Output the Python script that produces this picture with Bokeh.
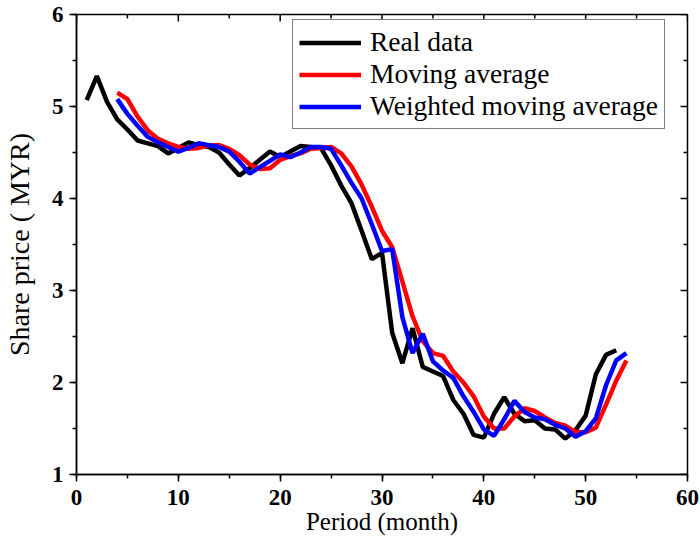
from bokeh.plotting import figure
from bokeh.models import Range1d, SingleIntervalTicker, Legend, LegendItem
from bokeh.embed import file_html
from bokeh.resources import INLINE

# ---- data ----
real_months = list(range(1, 54))
real_data = [5.07, 5.33, 5.05, 4.86, 4.75, 4.63, 4.60, 4.57, 4.49, 4.55,
             4.61, 4.58, 4.56, 4.50, 4.37, 4.25, 4.33, 4.42, 4.51, 4.45,
             4.51, 4.57, 4.56, 4.55, 4.36, 4.14, 3.95, 3.65, 3.34, 3.41,
             2.54, 2.21, 2.59, 2.17, 2.12, 2.07, 1.81, 1.66, 1.43, 1.40,
             1.66, 1.84, 1.66, 1.58, 1.59, 1.50, 1.49, 1.39, 1.48, 1.64,
             2.09, 2.30, 2.35]

avg_months = list(range(4, 55))
moving_avg = [5.15, 5.08, 4.89, 4.74, 4.65, 4.60, 4.56, 4.54, 4.55, 4.58,
              4.58, 4.54, 4.47, 4.37, 4.32, 4.33, 4.42, 4.46, 4.49, 4.54,
              4.55, 4.56, 4.49, 4.35, 4.15, 3.91, 3.65, 3.47, 3.10, 2.72,
              2.45, 2.32, 2.29, 2.12, 2.00, 1.85, 1.63, 1.50, 1.50, 1.63,
              1.72, 1.69, 1.62, 1.56, 1.53, 1.46, 1.46, 1.51, 1.76, 2.02,
              2.24]
weighted_avg = [5.08, 4.92, 4.79, 4.67, 4.61, 4.56, 4.51, 4.55, 4.60, 4.58,
                4.56, 4.51, 4.40, 4.27, 4.34, 4.41, 4.48, 4.45, 4.50, 4.56,
                4.56, 4.54, 4.36, 4.17, 4.00, 3.72, 3.43, 3.45, 2.71, 2.32,
                2.53, 2.23, 2.13, 2.05, 1.85, 1.68, 1.49, 1.42, 1.60, 1.80,
                1.68, 1.62, 1.60, 1.54, 1.50, 1.41, 1.47, 1.61, 1.97, 2.24,
                2.32]

series_labels = ["Real data", "Moving average", "Weighted moving average"]
x_label = "Period (month)"
y_label = "Share price ( MYR)"

# axis limits and tick steps
X_MIN, X_MAX, X_STEP = 0, 60, 10
Y_MIN, Y_MAX, Y_STEP = 1, 6, 1

FONT = "Liberation Serif"

W, H = 699, 537
BL, BR, BT, BB = 73, 12, 14, 60

p = figure(width=W, height=H,
           x_range=Range1d(X_MIN, X_MAX), y_range=Range1d(Y_MIN, Y_MAX),
           output_backend="svg", toolbar_location=None,
           min_border_left=BL, min_border_right=BR, min_border_top=BT,
           min_border_bottom=BB)
p.grid.visible = False
p.outline_line_color = "black"
p.outline_line_width = 1.5
p.background_fill_color = "white"

for ax, step in ((p.xaxis[0], X_STEP), (p.yaxis[0], Y_STEP)):
    ax.ticker = SingleIntervalTicker(interval=step, num_minor_ticks=2)
    ax.axis_line_width = 1.5
    ax.major_tick_line_width = 1.5
    ax.minor_tick_line_width = 1.5
    ax.major_tick_in = 0
    ax.major_tick_out = 7
    ax.minor_tick_in = 0
    ax.minor_tick_out = 4
    ax.major_label_text_font = FONT
    ax.major_label_text_font_style = "bold"
    ax.major_label_text_font_size = "23px"
    ax.major_label_text_color = "black"
    ax.axis_label_text_font = FONT
    ax.axis_label_text_font_style = "normal"
    ax.axis_label_text_color = "black"

p.xaxis[0].axis_label = x_label
p.xaxis[0].axis_label_text_font_size = "25px"
p.xaxis[0].major_label_standoff = 8
p.xaxis[0].axis_label_standoff = 0
p.yaxis[0].axis_label = y_label
p.yaxis[0].axis_label_text_font_size = "28px"
p.yaxis[0].major_label_standoff = 6
p.yaxis[0].axis_label_standoff = 14

# mirrored inward ticks on the top and right edges
frame_w = W - BL - BR
frame_h = 459
x_per_px = (X_MAX - X_MIN) / frame_w
y_per_px = (Y_MAX - Y_MIN) / frame_h
top_major = [X_MIN + i * X_STEP for i in range(int((X_MAX - X_MIN) / X_STEP) + 1)]
top_minor = [v + X_STEP / 2 for v in top_major[:-1]]
right_major = [Y_MIN + i * Y_STEP for i in range(int((Y_MAX - Y_MIN) / Y_STEP) + 1)]
right_minor = [v + Y_STEP / 2 for v in right_major[:-1]]

for ticks, ln in ((top_major, 7), (top_minor, 4)):
    p.segment(x0=ticks, y0=[Y_MAX] * len(ticks), x1=ticks,
              y1=[Y_MAX - ln * y_per_px] * len(ticks),
              line_color="black", line_width=1.5)
for ticks, ln in ((right_major, 7), (right_minor, 4)):
    p.segment(x0=[X_MAX] * len(ticks), y0=ticks,
              x1=[X_MAX - ln * x_per_px] * len(ticks), y1=ticks,
              line_color="black", line_width=1.5)

r1 = p.line(real_months, real_data, line_color="black", line_width=4.5)
r2 = p.line(avg_months, moving_avg, line_color="#ff0000", line_width=4.5)
r3 = p.line(avg_months, weighted_avg, line_color="#0000ff", line_width=4.5)

legend = Legend(items=[LegendItem(label=series_labels[0], renderers=[r1]),
                       LegendItem(label=series_labels[1], renderers=[r2]),
                       LegendItem(label=series_labels[2], renderers=[r3])],
                location=(216, 345), margin=0, padding=6, spacing=0,
                glyph_width=62, glyph_height=29, label_height=29,
                label_standoff=9,
                label_text_font=FONT, label_text_font_size="27.5px",
                label_text_color="black",
                border_line_color="black", border_line_width=1.2,
                background_fill_color="white", background_fill_alpha=1)
p.add_layout(legend)

open("out.html", "w").write(file_html(p, INLINE))
